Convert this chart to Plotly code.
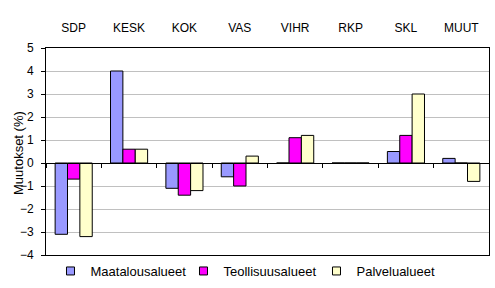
import plotly.graph_objects as go

categories = ["SDP", "KESK", "KOK", "VAS", "VIHR", "RKP", "SKL", "MUUT"]
maatalous = [-3.1, 4.0, -1.1, -0.6, 0.0, 0.0, 0.5, 0.2]
teollisuus = [-0.7, 0.6, -1.4, -1.0, 1.1, 0.0, 1.2, 0.0]
palvelu = [-3.2, 0.6, -1.2, 0.3, 1.2, 0.0, 3.0, -0.8]
series_names = ["Maatalousalueet", "Teollisuusalueet", "Palvelualueet"]
colors = ["#9999FF", "#FF00FF", "#FFFFCC"]
y_ticks = [-4, -3, -2, -1, 0, 1, 2, 3, 4, 5]
y_title = "Muutokset (%)"

FONT = "Liberation Sans, Arial, sans-serif"
W, H = 495, 288
ml, mr, mt, mb = 46, 6, 48, 33
ymin, ymax = -4, 5
zero_pos = (0 - ymin) / (ymax - ymin)

fig = go.Figure()
for name, vals, col in zip(series_names, [maatalous, teollisuus, palvelu], colors):
    fig.add_trace(go.Bar(
        x=categories, y=vals, name=name, showlegend=False,
        marker=dict(color=col, line=dict(color="black", width=1)),
    ))
# legend entries with small square swatches
for name, col in zip(series_names, colors):
    fig.add_trace(go.Scatter(
        x=[None], y=[None], name=name, mode="markers",
        marker=dict(symbol="square", size=8, color=col, line=dict(color="black", width=1)),
    ))

# invisible trace for the boundary-tick axis at zero
fig.add_trace(go.Scatter(x=categories, y=[0]*len(categories), xaxis="x2",
                         mode="markers", marker=dict(opacity=0),
                         showlegend=False, hoverinfo="skip"))

fig.add_annotation(
    text=y_title, textangle=-90, xref="paper", yref="paper", x=0, y=0.5,
    xanchor="center", yanchor="middle", xshift=-27.5, yshift=-2, showarrow=False,
    font=dict(size=13, family=FONT),
)

fig.update_layout(
    width=W, height=H,
    margin=dict(l=ml, r=mr, t=mt, b=mb, autoexpand=False),
    paper_bgcolor="white", plot_bgcolor="white",
    barmode="group", bargap=0.33, bargroupgap=0,
    font=dict(family=FONT, size=12, color="black"),
    xaxis=dict(
        side="top", type="category", categoryorder="array", categoryarray=categories,
        showgrid=False, zeroline=False, ticks="outside", ticklen=10,
        tickcolor="rgba(0,0,0,0)", showline=True, linecolor="black", linewidth=1,
        mirror=True, tickfont=dict(size=12, family=FONT),
    ),
    xaxis2=dict(
        overlaying="x", matches="x", type="category", anchor="free",
        position=zero_pos, tickson="boundaries", ticks="outside", ticklen=4,
        tickcolor="black", showticklabels=False, showline=True,
        linecolor="black", linewidth=1, showgrid=False, zeroline=False,
    ),
    yaxis=dict(
        range=[ymin, ymax], tickvals=y_ticks, showgrid=True, gridcolor="#C0C0C0",
        gridwidth=1, zeroline=False, showline=True, linecolor="black",
        linewidth=1, mirror=True, ticks="outside", ticklen=4, tickcolor="black",
        ticklabelstandoff=5,
        tickfont=dict(size=12, family=FONT),
    ),
    legend=dict(
        orientation="h", x=0.102, xanchor="left", xref="container",
        y=0.059, yanchor="middle", yref="container",
        font=dict(size=13, family=FONT), itemwidth=30, traceorder="normal",
        entrywidth=88, entrywidthmode="pixels",
        bgcolor="rgba(0,0,0,0)",
    ),
)

fig.write_html("out.html")
